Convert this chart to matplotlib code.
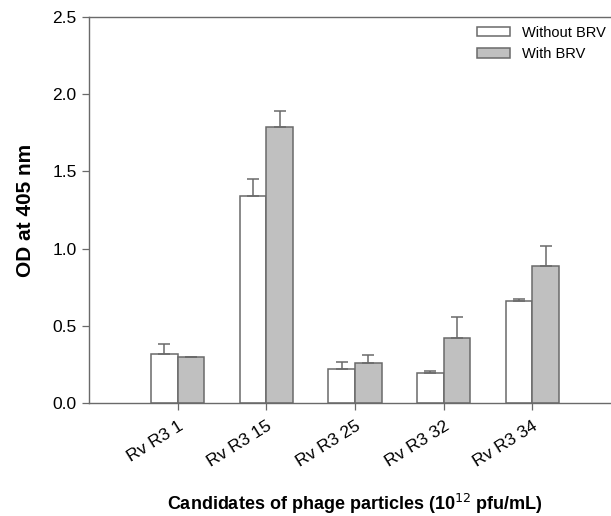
import matplotlib.pyplot as plt
import numpy as np

plt.rcParams['font.family'] = ['Liberation Sans', 'DejaVu Sans']

PHAGE = ['Rv R3 1', 'Rv R3 15', 'Rv R3 25', 'Rv R3 32', 'Rv R3 34']
WITHOUT_BRV = [0.32, 1.34, 0.22, 0.195, 0.66]
WITHOUT_ERR = [0.06, 0.11, 0.045, 0.015, 0.015]
WITH_BRV = [0.30, 1.787, 0.26, 0.42, 0.887]
WITH_ERR = [0.0, 0.105, 0.05, 0.14, 0.13]

fig = plt.figure(figsize=(6.11, 5.16), dpi=100)
# axes run past the right edge of the figure, as in the cropped original
ax = fig.add_axes([89/611, 113/516, 532/611, 386/516])

edge = '#6a6a6a'
xpos = np.arange(len(PHAGE))
w = 0.3
ax.bar(xpos - w/2, WITHOUT_BRV, width=w, color='white', edgecolor=edge,
       linewidth=1.1, label='Without BRV')
ax.bar(xpos + w/2, WITH_BRV, width=w, color='#c0c0c0', edgecolor=edge,
       linewidth=1.1, label='With BRV')
ax.errorbar(xpos - w/2, WITHOUT_BRV, yerr=[np.zeros(len(PHAGE)), WITHOUT_ERR],
            fmt='none', ecolor=edge, elinewidth=1.1, capsize=4.5, capthick=1.1)
ax.errorbar(xpos + w/2, WITH_BRV, yerr=[np.zeros(len(PHAGE)), WITH_ERR],
            fmt='none', ecolor=edge, elinewidth=1.1, capsize=4.5, capthick=1.1)

ax.set_xlim(-1, 5.0)
ax.set_ylim(0, 2.5)
ax.set_yticks([0.0, 0.5, 1.0, 1.5, 2.0, 2.5])
ax.set_yticklabels(['0.0', '0.5', '1.0', '1.5', '2.0', '2.5'], fontsize=12.5)
ax.set_xticks(xpos)
ax.set_xticklabels(PHAGE, rotation=32, ha='right', va='top',
                   rotation_mode='anchor', fontsize=12.5)
ax.tick_params(direction='out', length=5, color=edge, width=0.9)
ax.tick_params(axis='y', pad=4)
ax.tick_params(axis='x', pad=6)
ax.spines['right'].set_visible(False)
for s in ['left', 'bottom', 'top']:
    ax.spines[s].set_color(edge)
    ax.spines[s].set_linewidth(1.0)

ax.set_ylabel('OD at 405 nm', fontsize=15, fontweight='bold', labelpad=12)
ax.set_xlabel('Candidates of phage particles (10$^{12}$ pfu/mL)',
              fontsize=13, fontweight='bold', labelpad=16)

ax.legend(loc='upper left', frameon=False, fontsize=10.5, handlelength=2.3,
          handleheight=0.6, labelspacing=0.5, handletextpad=0.8,
          borderaxespad=0, bbox_to_anchor=(471/611, 1 - 20/516),
          bbox_transform=fig.transFigure)

plt.savefig('out.png', dpi=100)
